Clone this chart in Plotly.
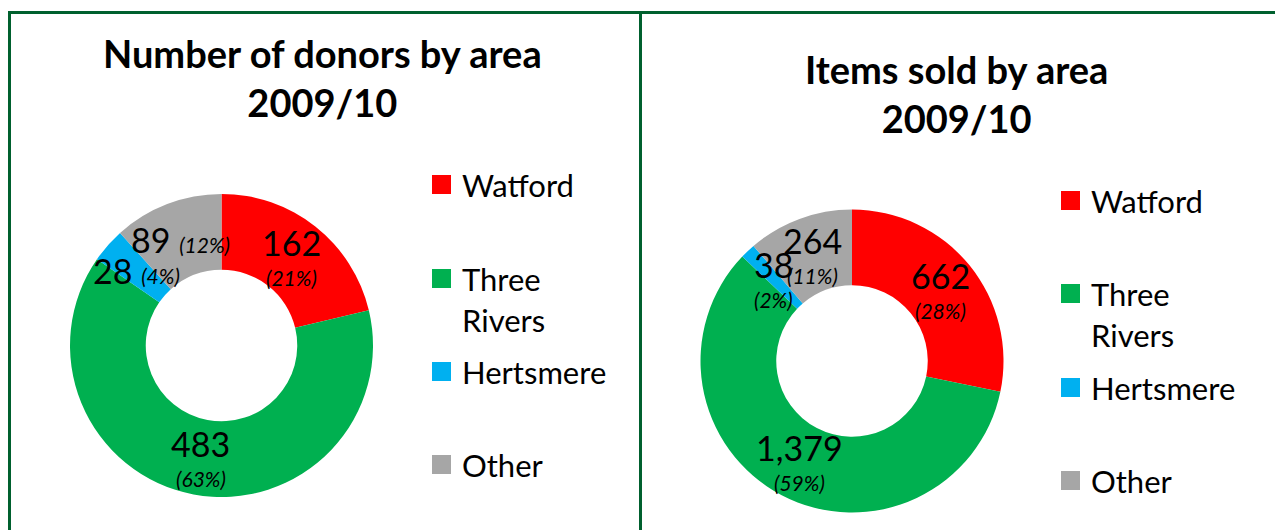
import math
import plotly.graph_objects as go

# ---------------- data ----------------
areas = ["Watford", "Three Rivers", "Hertsmere", "Other"]
donors = [162, 483, 28, 89]
items_sold = [662, 1379, 38, 264]
colors = ["#FF0000", "#00B050", "#00B0F0", "#A6A6A6"]
title_left = "Number of donors by area<br>2009/10"
title_right = "Items sold by area<br>2009/10"

# ---------------- layout helpers ----------------
W, H = 1283, 530
OFF = 8  # page body margin in the browser
FONT = "Lato, 'Open Sans', sans-serif"
BORDER = "#00602E"
HOLE = 0.5
VAL_SIZE = 34
PCT_SIZE = 21


def fx(px):
    return (px - OFF) / W


def fy(py):
    return 1 - (py - OFF) / H


# pie placement (pixel centre and radius)
pies = [
    dict(values=donors, cx=221.5, cy=345.5, r=151.5, title=title_left, tx=322, ty=78,
         styles=["stack", "stack", "inline", "inline"],
         leg_x=432, leg_y=[184.5, 278.5, 371.5, 464.5]),
    dict(values=items_sold, cx=852, cy=361, r=151.5, title=title_right, tx=956, ty=94,
         styles=["stack", "stack", "stack", "stack"],
         leg_x=1061, leg_y=[200.5, 293.5, 387.5, 480.5]),
]

fig = go.Figure()
annotations = []
shapes = []

for p in pies:
    cx, cy, r = p["cx"], p["cy"], p["r"]
    fig.add_trace(go.Pie(
        labels=areas,
        values=p["values"],
        marker=dict(colors=colors, line=dict(width=0)),
        hole=HOLE,
        sort=False,
        direction="clockwise",
        rotation=0,
        textinfo="none",
        hovertemplate="%{label}: %{value:,} (%{percent})<extra></extra>",
        domain=dict(x=[fx(cx - r), fx(cx + r)], y=[fy(cy + r), fy(cy - r)]),
        showlegend=False,
    ))

    # data labels at the middle of each ring segment
    vals = p["values"]
    total = sum(vals)
    cum = 0
    rl = r * (1 + HOLE) / 2
    for v, style in zip(vals, p["styles"]):
        mid = (cum + v / 2) / total * 2 * math.pi
        cum += v
        lx = cx + rl * math.sin(mid)
        ly = cy - rl * math.cos(mid)
        pct = f"({round(v / total * 100)}%)"
        if style == "stack":
            annotations.append(dict(x=fx(lx), y=fy(ly), xref="paper", yref="paper",
                                    text=f"{v:,}", showarrow=False, yshift=14,
                                    xanchor="center", yanchor="middle",
                                    font=dict(family=FONT, size=VAL_SIZE, color="#000")))
            annotations.append(dict(x=fx(lx), y=fy(ly), xref="paper", yref="paper",
                                    text=f"<i>{pct}</i>", showarrow=False, yshift=-21,
                                    xanchor="center", yanchor="middle",
                                    font=dict(family=FONT, size=PCT_SIZE, color="#000")))
        else:
            annotations.append(dict(x=fx(lx), y=fy(ly), xref="paper", yref="paper",
                                    text=f"{v:,} <span style='font-size:{PCT_SIZE}px'><i>{pct}</i></span>",
                                    showarrow=False, xanchor="center", yanchor="middle",
                                    font=dict(family=FONT, size=VAL_SIZE, color="#000")))

    # title
    annotations.append(dict(x=fx(p["tx"]), y=fy(p["ty"]), xref="paper", yref="paper",
                            text=f"<b>{p['title']}</b>", showarrow=False,
                            xanchor="center", yanchor="middle",
                            font=dict(family=FONT, size=38, color="#000")))

    # legend
    for name, col, ly in zip(areas, colors, p["leg_y"]):
        shapes.append(dict(type="rect", xref="paper", yref="paper",
                           x0=fx(p["leg_x"]), x1=fx(p["leg_x"] + 19),
                           y0=fy(ly + 9.5), y1=fy(ly - 9.5),
                           fillcolor=col, line=dict(width=0)))
        for i, word in enumerate(name.split(" ")):
            annotations.append(dict(x=fx(p["leg_x"] + 28), y=fy(ly + i * 41.5),
                                    xref="paper", yref="paper", text=word,
                                    showarrow=False, xanchor="left", yanchor="middle",
                                    font=dict(family=FONT, size=31, color="#000")))

# panel borders
for x0, y0, x1, y1 in [(8, 12.5, W + OFF, 12.5), (9.5, 11, 9.5, H + OFF), (640.5, 11, 640.5, H + OFF)]:
    shapes.append(dict(type="line", xref="paper", yref="paper",
                       x0=fx(x0), y0=fy(y0), x1=fx(x1), y1=fy(y1),
                       line=dict(color=BORDER, width=3)))

fig.update_layout(
    width=W, height=H,
    margin=dict(l=0, r=0, t=0, b=0),
    paper_bgcolor="white", plot_bgcolor="white",
    annotations=annotations, shapes=shapes,
    font=dict(family=FONT),
)

fig.write_html("out.html")
